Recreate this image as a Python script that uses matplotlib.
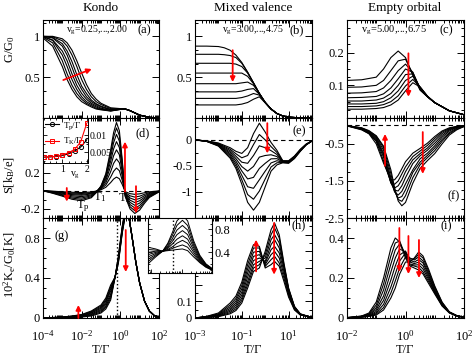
import numpy as np
import matplotlib
matplotlib.use("Agg")
import matplotlib.pyplot as plt
from matplotlib.ticker import FixedLocator, LogLocator, MultipleLocator, NullFormatter, FuncFormatter

plt.rcParams["font.family"] = "Liberation Serif"
plt.rcParams["mathtext.fontset"] = "custom"
plt.rcParams["mathtext.rm"] = "Liberation Serif"
plt.rcParams["mathtext.it"] = "Liberation Serif:italic"
plt.rcParams["font.size"] = 9

# ---- data (log10 T/Gamma grids and curve families) ----
xa = [-4, -3.5, -3, -2.75, -2.5, -2.25, -2, -1.75, -1.5, -1.25, -1, -0.5, 0, 0.25, 0.5, 1, 1.5, 2]
ga = [
    [.98, .88, .63, .47, .35, .26, .20, .165, .135, .11, .10, .085, .105, .11, .09, .035, .008, .001],
    [.99, .92, .70, .54, .40, .30, .23, .18, .15, .12, .105, .087, .105, .11, .09, .035, .008, .001],
    [.995, .95, .77, .63, .47, .35, .26, .20, .165, .135, .11, .09, .107, .11, .09, .035, .008, .001],
    [1.0, .955, .82, .70, .54, .40, .30, .23, .18, .15, .12, .093, .108, .11, .09, .035, .008, .001],
    [1.0, .98, .88, .77, .62, .46, .35, .26, .20, .165, .135, .10, .11, .11, .09, .035, .008, .001],
    [1.0, .985, .91, .82, .69, .53, .39, .30, .22, .175, .145, .105, .11, .11, .09, .035, .008, .001],
    [1.0, .995, .945, .88, .77, .63, .47, .35, .26, .20, .165, .115, .112, .11, .09, .035, .008, .001],
    [1.0, 1.0, .97, .92, .83, .70, .55, .41, .30, .23, .18, .125, .115, .11, .09, .035, .008, .001],
]

xb = [-3, -2.5, -2, -1.75, -1.5, -1.25, -1, -0.75, -0.5, -0.25, 0, 0.25, 0.5, 0.75, 1, 1.5, 2]
gb = [
    [.88, .88, .875, .86, .83, .77, .68, .56, .43, .30, .19, .11, .055, .025, .01, .002, 0],
    [.78, .78, .78, .775, .765, .74, .67, .56, .43, .30, .19, .11, .055, .025, .01, .002, 0],
    [.67, .67, .67, .67, .67, .66, .63, .55, .43, .30, .19, .11, .055, .025, .01, .002, 0],
    [.55, .55, .55, .55, .55, .55, .55, .51, .42, .30, .19, .11, .055, .025, .01, .002, 0],
    [.42, .42, .42, .42, .42, .42, .43, .44, .40, .30, .19, .11, .055, .025, .01, .002, 0],
    [.32, .32, .32, .32, .32, .32, .33, .35, .36, .29, .19, .11, .055, .025, .01, .002, 0],
    [.24, .24, .24, .24, .24, .24, .25, .27, .30, .28, .19, .11, .055, .025, .01, .002, 0],
    [.16, .16, .16, .16, .16, .16, .17, .19, .23, .26, .185, .11, .055, .025, .01, .002, 0],
]

xc = [-2, -1.5, -1, -0.75, -0.5, -0.25, 0, 0.25, 0.5, 0.75, 1, 1.5, 2]
gc = [
    [.115, .117, .125, .15, .185, .205, .185, .13, .085, .065, .047, .022, .01],
    [.094, .095, .10, .115, .145, .175, .18, .135, .087, .065, .047, .022, .01],
    [.076, .077, .081, .092, .115, .145, .165, .14, .088, .065, .047, .022, .01],
    [.062, .063, .066, .074, .092, .12, .15, .14, .09, .065, .047, .022, .01],
    [.052, .052, .055, .061, .075, .10, .133, .135, .092, .066, .047, .022, .01],
    [.043, .043, .045, .05, .062, .083, .115, .128, .094, .066, .047, .022, .01],
    [.035, .035, .037, .041, .05, .068, .098, .118, .095, .067, .047, .022, .01],
    [.027, .027, .029, .032, .04, .055, .083, .108, .095, .067, .047, .022, .01],
]

xd = [-4, -3.5, -3, -2.5, -2, -1.5, -1.25, -1, -0.75, -0.5, -0.35, -0.2, -0.05, 0.1, 0.25, 0.5, 0.75, 1, 1.25, 1.5, 2]
sd = [
    [0, -.005, -.011, -.017, -.02, -.014, -.004, .01, .038, .09, .128, .15, .132, .068, -.01, -.032, -.04, -.034, -.022, -.012, -.002],
    [0, -.008, -.017, -.026, -.03, -.021, -.006, .018, .063, .15, .213, .25, .22, .113, -.018, -.056, -.07, -.06, -.039, -.021, -.004],
    [0, -.01, -.022, -.034, -.04, -.028, -.008, .025, .088, .21, .30, .35, .308, .158, -.025, -.08, -.10, -.085, -.055, -.03, -.005],
    [0, -.013, -.028, -.043, -.05, -.035, -.01, .032, .113, .27, .383, .45, .396, .203, -.033, -.104, -.13, -.11, -.072, -.039, -.007],
    [0, -.016, -.036, -.055, -.065, -.046, -.013, .038, .135, .324, .459, .54, .475, .243, -.04, -.128, -.16, -.136, -.088, -.048, -.008],
    [0, -.02, -.044, -.068, -.08, -.056, -.016, .043, .155, .372, .527, .62, .546, .279, -.048, -.152, -.19, -.162, -.105, -.057, -.01],
    [0, -.024, -.052, -.081, -.095, -.067, -.019, .048, .173, .414, .587, .69, .607, .311, -.055, -.176, -.22, -.187, -.121, -.066, -.011],
    [0, -.028, -.06, -.094, -.11, -.077, -.022, .053, .188, .45, .638, .75, .66, .338, -.063, -.20, -.25, -.213, -.138, -.075, -.013],
]

xe = [-3, -2.5, -2, -1.5, -1.25, -1, -0.75, -0.5, -0.25, 0, 0.25, 0.5, 0.75, 1, 1.25, 1.5, 1.75, 2]
se = [
    [0, -.02, -.06, -.15, -.22, -.26, -.15, .12, .32, .15, -.05, -.20, -.40, -.40, -.31, -.18, -.08, -.02],
    [0, -.021, -.069, -.179, -.267, -.344, -.30, -.09, .103, 0, -.129, -.24, -.406, -.41, -.32, -.19, -.085, -.02],
    [0, -.023, -.077, -.207, -.314, -.429, -.45, -.30, -.114, -.15, -.207, -.28, -.411, -.415, -.325, -.195, -.087, -.02],
    [0, -.024, -.086, -.236, -.361, -.513, -.60, -.51, -.331, -.30, -.286, -.32, -.417, -.42, -.33, -.20, -.09, -.02],
    [0, -.026, -.094, -.264, -.409, -.597, -.75, -.72, -.549, -.45, -.364, -.36, -.423, -.43, -.335, -.205, -.09, -.02],
    [0, -.027, -.103, -.293, -.456, -.681, -.90, -.93, -.766, -.60, -.443, -.40, -.429, -.435, -.34, -.21, -.092, -.021],
    [0, -.029, -.111, -.321, -.503, -.766, -1.05, -1.14, -.983, -.75, -.521, -.44, -.434, -.44, -.35, -.215, -.095, -.022],
    [0, -.03, -.12, -.35, -.55, -.85, -1.20, -1.35, -1.20, -.90, -.60, -.48, -.44, -.45, -.36, -.22, -.097, -.022],
]

xf = [-2, -1.5, -1.25, -1, -0.75, -0.5, -0.375, -0.25, -0.125, 0, 0.25, 0.5, 0.75, 1, 1.25, 1.5, 1.75, 2]
sf = [
    [-.015, -.12, -.225, -.50, -1.02, -1.47, -1.47, -1.35, -1.17, -.98, -.75, -.62, -.48, -.30, -.15, -.065, -.027, -.008],
    [-.01, -.11, -.22, -.43, -.96, -1.54, -1.59, -1.50, -1.31, -1.12, -.84, -.69, -.54, -.35, -.18, -.08, -.03, -.01],
    [-.005, -.10, -.20, -.41, -.86, -1.55, -1.69, -1.63, -1.47, -1.25, -.93, -.76, -.61, -.41, -.22, -.10, -.04, -.012],
    [-.005, -.09, -.19, -.38, -.80, -1.55, -1.75, -1.77, -1.63, -1.41, -1.03, -.82, -.67, -.48, -.27, -.12, -.05, -.015],
    [-.005, -.085, -.17, -.35, -.75, -1.48, -1.79, -1.88, -1.78, -1.58, -1.20, -.90, -.75, -.55, -.32, -.15, -.06, -.02],
    [-.005, -.08, -.17, -.32, -.67, -1.41, -1.78, -1.96, -1.92, -1.74, -1.27, -.99, -.81, -.61, -.38, -.19, -.08, -.025],
    [-.004, -.07, -.155, -.29, -.60, -1.30, -1.75, -2.00, -2.05, -1.90, -1.41, -1.06, -.87, -.68, -.43, -.22, -.10, -.03],
    [-.003, -.065, -.14, -.28, -.56, -1.20, -1.67, -2.04, -2.17, -2.08, -1.56, -1.16, -.95, -.76, -.50, -.26, -.12, -.03],
]

xg = [-4, -3, -2.5, -2, -1.5, -1, -0.75, -0.5, -0.27, -0.1, 0.1, 0.28, 0.45, 0.6, 0.8, 1, 1.25, 1.5, 1.75, 2]
kg = [
    [0, .002, .005, .01, .02, .05, .09, .18, .41, .62, .92, 1.12, 1.0, .82, .56, .35, .17, .07, .025, .008],
    [0, .003, .007, .014, .027, .061, .106, .20, .41, .61, .91, 1.11, 1.0, .82, .56, .35, .17, .07, .025, .008],
    [0, .004, .009, .017, .034, .073, .121, .22, .41, .60, .90, 1.10, 1.0, .82, .56, .35, .17, .07, .025, .008],
    [0, .005, .011, .021, .041, .084, .137, .24, .41, .59, .89, 1.09, 1.0, .82, .56, .35, .17, .07, .025, .008],
    [0, .007, .014, .024, .049, .096, .153, .27, .41, .58, .88, 1.08, 1.0, .82, .56, .35, .17, .07, .025, .008],
    [0, .008, .016, .028, .056, .107, .169, .29, .41, .57, .87, 1.07, 1.0, .82, .56, .35, .17, .07, .025, .008],
    [0, .009, .018, .031, .063, .119, .184, .31, .41, .56, .86, 1.06, 1.0, .82, .56, .35, .17, .07, .025, .008],
    [0, .01, .02, .035, .07, .13, .20, .33, .41, .55, .85, 1.05, 1.0, .82, .56, .35, .17, .07, .025, .008],
]

xh = [-3, -2.5, -2, -1.5, -1.25, -1, -0.75, -0.5, -0.25, 0, 0.25, 0.4, 0.6, 0.8, 1, 1.25, 1.5, 2]
kh = [
    [0, .003, .008, .025, .045, .09, .18, .28, .30, .40, .53, .57, .50, .33, .18, .07, .025, .003],
    [0, .004, .01, .032, .055, .105, .20, .30, .32, .38, .50, .54, .48, .32, .175, .068, .024, .003],
    [0, .005, .012, .04, .066, .12, .22, .32, .34, .36, .47, .50, .45, .31, .17, .066, .023, .003],
    [0, .006, .015, .048, .078, .137, .245, .345, .36, .34, .44, .47, .42, .30, .165, .064, .022, .003],
    [0, .007, .018, .057, .09, .155, .27, .37, .38, .33, .41, .43, .39, .28, .155, .06, .021, .003],
    [0, .008, .021, .067, .103, .175, .295, .395, .40, .32, .38, .40, .36, .26, .145, .056, .02, .003],
    [0, .009, .025, .078, .117, .195, .32, .42, .42, .31, .35, .37, .33, .24, .135, .052, .019, .003],
    [0, .01, .03, .09, .132, .215, .345, .44, .43, .30, .32, .34, .31, .22, .125, .048, .018, .003],
]

xi = [-2, -1.5, -1.25, -1, -0.75, -0.5, -0.35, -0.2, 0, 0.15, 0.3, 0.45, 0.6, 0.8, 1, 1.25, 1.5, 1.75, 2]
ki = [
    [.002, .01, .025, .08, .20, .35, .40, .38, .30, .26, .25, .24, .22, .17, .12, .06, .025, .01, .003],
    [.002, .009, .021, .065, .17, .31, .375, .385, .31, .265, .26, .253, .23, .18, .125, .062, .026, .01, .003],
    [.002, .008, .018, .052, .14, .27, .34, .37, .32, .27, .265, .266, .245, .19, .13, .065, .027, .011, .003],
    [.001, .007, .015, .042, .11, .23, .30, .345, .33, .28, .272, .279, .26, .20, .135, .068, .028, .011, .003],
    [.001, .006, .012, .033, .088, .19, .26, .315, .335, .29, .28, .292, .275, .21, .14, .071, .029, .011, .004],
    [.001, .005, .01, .026, .068, .155, .22, .285, .325, .30, .29, .305, .285, .22, .148, .074, .03, .012, .004],
    [.001, .004, .009, .02, .052, .125, .185, .25, .305, .295, .295, .318, .30, .23, .155, .077, .03, .012, .004],
    [.001, .004, .008, .015, .04, .10, .15, .22, .28, .28, .30, .33, .31, .24, .16, .08, .03, .012, .004],
]

# inset of (d): characteristic temperatures vs v_g
vg = [0.25, 0.5, 0.75, 1.0, 1.25, 1.5, 1.75, 2.0]
tp = [0.0035, 0.0036, 0.0037, 0.0040, 0.0045, 0.0053, 0.0065, 0.0086]
tk = [0.0035, 0.0036, 0.0038, 0.0042, 0.0048, 0.0058, 0.0080, 0.0135]

# inset of (h)
xhi = [-1.1, -0.85, -0.62, -0.45, -0.29, -0.15, 0.03, 0.2, 0.4, 0.6, 0.8, 1.0]
khi = [
    [.20, .32, .42, .56, .76, .95, 1.05, .95, .60, .35, .20, .12],
    [.24, .34, .42, .54, .71, .87, .96, .87, .56, .33, .19, .115],
    [.28, .36, .42, .51, .65, .79, .87, .79, .52, .31, .18, .11],
    [.32, .38, .42, .49, .60, .71, .78, .71, .48, .29, .17, .105],
    [.36, .40, .42, .47, .55, .63, .69, .63, .44, .27, .16, .10],
    [.40, .42, .42, .45, .50, .56, .61, .56, .40, .25, .155, .10],
    [.45, .44, .42, .44, .47, .50, .53, .49, .36, .23, .15, .095],
    [.49, .46, .42, .43, .44, .45, .46, .43, .32, .22, .14, .09],
]

# ---- figure layout (pixel geometry of the original) ----
W, H = 474, 357
fig = plt.figure(figsize=(W / 100, H / 100), dpi=100)

cols = [(43, 116), (195, 117), (347, 117)]
rows = [(20, 98), (118, 100), (218, 100)]
xlims = [(1e-4, 1e2), (1e-3, 1e2), (1e-2, 1e2)]
xmajor = [[1e-4, 1e-2, 1, 1e2], [1e-3, 1e-1, 1e1], [1e-2, 1, 1e2]]


def mk_ax(c, r):
    x0, w = cols[c]
    y0, h = rows[r]
    return fig.add_axes([x0 / W, 1 - (y0 + h) / H, w / W, h / H])


def pow_fmt(v, pos):
    return r"$10^{%d}$" % int(round(np.log10(v)))


def style(ax, c, r):
    ax.set_xscale("log")
    ax.set_xlim(*xlims[c])
    ax.xaxis.set_major_locator(FixedLocator(xmajor[c]))
    ax.xaxis.set_minor_locator(LogLocator(base=10, subs=np.arange(1, 10), numticks=30))
    ax.xaxis.set_minor_formatter(NullFormatter())
    if r == 2:
        ax.xaxis.set_major_formatter(FuncFormatter(pow_fmt))
    else:
        ax.xaxis.set_major_formatter(NullFormatter())
    ax.tick_params(which="both", direction="in", top=True, right=True, width=0.7, labelsize=9, pad=2)
    ax.tick_params(axis="x", which="major", pad=8)
    ax.tick_params(which="major", length=5)
    ax.tick_params(which="minor", length=2.5)
    for s in ax.spines.values():
        s.set_linewidth(0.8)


def family(ax, xs, ys, lw=0.8):
    t = 10.0 ** np.array(xs)
    for y in ys:
        ax.plot(t, y, color="black", lw=lw)


def arrow(ax, x0, y0, x1, y1):
    ax.annotate("", xy=(x1, y1), xytext=(x0, y0),
                arrowprops=dict(arrowstyle="-|>", color="red", lw=1.3, mutation_scale=7,
                                shrinkA=0, shrinkB=0))


axs = {}
for r in range(3):
    for c in range(3):
        a = mk_ax(c, r)
        style(a, c, r)
        axs[(r, c)] = a

# (a)
ax = axs[(0, 0)]
family(ax, xa, ga)
ax.set_ylim(0, 1.2)
ax.set_yticks([0.5, 1.0])
ax.set_yticklabels(["0.5", "1"])
ax.yaxis.set_minor_locator(MultipleLocator(0.5 / 3))
ax.text(0.47, 0.89, r"v$_\mathrm{g}$=0.25,...,2.00", transform=ax.transAxes, ha="center", va="center", fontsize=7)
ax.text(0.93, 0.89, "(a)", transform=ax.transAxes, ha="right", va="center")
arrow(ax, 10 ** -2.95, 0.465, 10 ** -1.48, 0.60)

# (b)
ax = axs[(0, 1)]
family(ax, xb, gb)
ax.set_ylim(0, 1.2)
ax.set_yticks([0.5, 1.0])
ax.set_yticklabels(["0.5", "1"])
ax.yaxis.set_minor_locator(MultipleLocator(0.5 / 3))
ax.text(0.50, 0.89, r"v$_\mathrm{g}$=3.00,...,4.75", transform=ax.transAxes, ha="center", va="center", fontsize=7)
ax.text(0.93, 0.89, "(b)", transform=ax.transAxes, ha="right", va="center")
arrow(ax, 10 ** -1.39, 0.83, 10 ** -1.39, 0.44)

# (c)
ax = axs[(0, 2)]
family(ax, xc, gc)
ax.set_ylim(0, 0.3)
ax.set_yticks([0.1, 0.2])
ax.set_yticklabels(["0.1", "0.2"])
ax.yaxis.set_minor_locator(MultipleLocator(0.025))
ax.text(0.40, 0.89, r"v$_\mathrm{g}$=5.00,...,6.75", transform=ax.transAxes, ha="center", va="center", fontsize=7.5)
ax.text(0.91, 0.89, "(c)", transform=ax.transAxes, ha="right", va="center")
arrow(ax, 10 ** 0.1, 0.198, 10 ** 0.1, 0.065)

# (d)
ax = axs[(1, 0)]
family(ax, xd, sd)
ax.axhline(0, color="black", lw=0.8, ls=(0, (4, 3)))
ax.set_ylim(-0.3, 0.8)
ax.set_yticks([-0.2, 0.2])
ax.set_yticklabels(["-0.2", "0.2"])
ax.yaxis.set_minor_locator(MultipleLocator(0.1))
ax.text(0.92, 0.85, "(d)", transform=ax.transAxes, ha="right", va="center")
ax.text(10 ** -1.93, -0.17, r"T$_\mathrm{p}$", ha="center", va="center")
ax.text(10 ** -1.05, -0.065, r"T$_1$", ha="center", va="center")
ax.text(10 ** 0.24, -0.08, r"T$_2$", ha="center", va="center")
arrow(ax, 10 ** -2.77, 0.03, 10 ** -2.77, -0.12)
arrow(ax, 10 ** 0.24, -0.01, 10 ** 0.24, 0.54)
arrow(ax, 10 ** 0.81, 0.05, 10 ** 0.81, -0.25)

# (e)
ax = axs[(1, 1)]
family(ax, xe, se)
ax.axhline(0, color="black", lw=0.8, ls=(0, (4, 3)))
ax.set_ylim(-1.5, 0.42)
ax.set_yticks([-1, -0.5, 0])
ax.set_yticklabels(["-1", "-0.5", "0"])
ax.yaxis.set_minor_locator(MultipleLocator(0.25))
ax.text(0.95, 0.87, "(e)", transform=ax.transAxes, ha="right", va="center")
arrow(ax, 10 ** 0.09, 0.32, 10 ** 0.09, -0.26)

# (f)
ax = axs[(1, 2)]
family(ax, xf, sf)
ax.axhline(0, color="black", lw=0.8, ls=(0, (4, 3)))
ax.set_ylim(-2.5, 0.2)
ax.set_yticks([-2.5, -1.5, -0.5])
ax.set_yticklabels(["-2.5", "-1.5", "-0.5"])
ax.yaxis.set_minor_locator(MultipleLocator(0.25))
ax.text(0.96, 0.22, "(f)", transform=ax.transAxes, ha="right", va="center")
arrow(ax, 10 ** -0.7, -1.09, 10 ** -0.7, -0.23)
arrow(ax, 10 ** 0.59, -0.18, 10 ** 0.59, -1.31)

# (g)
ax = axs[(2, 0)]
family(ax, xg, kg)
ax.axvline(10 ** -0.17, color="black", lw=1.0, ls=":")
ax.set_ylim(0, 1.0)
ax.set_yticks([0, 0.4, 0.8])
ax.set_yticklabels(["0", "0.4", "0.8"])
ax.yaxis.set_minor_locator(MultipleLocator(0.1))
ax.text(0.1, 0.82, "(g)", transform=ax.transAxes, ha="left", va="center")
arrow(ax, 10 ** -2.17, 0.0, 10 ** -2.17, 0.13)
arrow(ax, 10 ** 0.28, 0.88, 10 ** 0.28, 0.46)

# (h)
ax = axs[(2, 1)]
family(ax, xh, kh)
ax.set_ylim(0, 0.6)
ax.set_yticks([0, 0.1, 0.2, 0.3, 0.4, 0.5])
ax.set_yticklabels(["0", "0.1", "", "", "", ""])
ax.yaxis.set_minor_locator(MultipleLocator(0.05))
ax.text(0.95, 0.93, "(h)", transform=ax.transAxes, ha="right", va="center")
arrow(ax, 10 ** -0.39, 0.28, 10 ** -0.39, 0.47)
arrow(ax, 10 ** 0.38, 0.57, 10 ** 0.38, 0.26)

# (i)
ax = axs[(2, 2)]
family(ax, xi, ki)
ax.set_ylim(0, 0.5)
ax.set_yticks([0, 0.2, 0.4])
ax.set_yticklabels(["0", "0.2", "0.4"])
ax.yaxis.set_minor_locator(MultipleLocator(0.05))
ax.text(0.9, 0.92, "(i)", transform=ax.transAxes, ha="right", va="center")
for lx, top, bot in [(-0.21, 0.45, 0.23), (0.1, 0.41, 0.22), (0.46, 0.39, 0.20)]:
    arrow(ax, 10 ** lx, top, 10 ** lx, bot)

# inset in (d)
ins = fig.add_axes([43 / W, 1 - 163 / H, 45 / W, 45 / H])
ins.plot(vg, tp, color="black", lw=0.8, marker="o", ms=3, mfc="none", mew=0.7, label="T$_\\mathrm{p}$/Γ")
ins.plot(vg, tk, color="red", lw=0.8, marker="s", ms=3, mfc="none", mew=0.7, label="T$_\\mathrm{K}$/Γ")
ins.set_xlim(0.2, 2.05)
ins.set_ylim(0.0018, 0.015)
ins.set_xticks([1, 2])
ins.set_xticklabels(["1", "2"])
ins.xaxis.set_minor_locator(MultipleLocator(0.25))
ins.set_yticks([0.005, 0.01])
ins.set_yticklabels(["0.005", "0.01"])
ins.yaxis.set_minor_locator(MultipleLocator(0.0025))
ins.yaxis.tick_right()
ins.tick_params(which="both", direction="in", top=True, left=True, right=True, labelsize=7, pad=1.5)
ins.tick_params(which="major", length=3, width=0.6)
ins.tick_params(which="minor", length=1.5, width=0.6)
ins.text(0.72, -0.27, r"v$_\mathrm{g}$", transform=ins.transAxes, ha="center", va="center", fontsize=7)
ins.legend(loc="upper left", fontsize=6.5, frameon=False, handlelength=1.6, borderpad=0.1,
           labelspacing=0.5, handletextpad=0.4, borderaxespad=0.1)
for s in ins.spines.values():
    s.set_linewidth(0.7)

# inset in (h)
inh = fig.add_axes([148 / W, 1 - 273 / H, 64 / W, 55 / H])
family(inh, xhi, khi, lw=0.7)
inh.axvline(10 ** -0.29, color="black", lw=1.0, ls=":")
inh.set_xscale("log")
inh.set_xlim(10 ** -1.1, 10 ** 1.0)
inh.set_ylim(0.04, 1.0)
inh.xaxis.set_major_locator(FixedLocator([0.1, 1, 10]))
inh.xaxis.set_minor_locator(LogLocator(base=10, subs=np.arange(1, 10), numticks=30))
inh.xaxis.set_major_formatter(NullFormatter())
inh.xaxis.set_minor_formatter(NullFormatter())
inh.set_yticks([0.4, 0.8])
inh.set_yticklabels(["0.4", "0.8"])
inh.yaxis.set_minor_locator(MultipleLocator(0.1))
inh.yaxis.tick_right()
inh.tick_params(which="both", direction="in", left=True, right=True, top=False, labelsize=9, pad=2)
inh.tick_params(which="major", length=3, width=0.6)
inh.tick_params(which="minor", length=1.5, width=0.6)
for s in inh.spines.values():
    s.set_linewidth(0.8)

# column titles, x labels and row labels
for xc_, t in [(101, "Kondo"), (253, "Mixed valence"), (405, "Empty orbital")]:
    fig.text(xc_ / W, 1 - 8 / H, t, ha="center", va="center", fontsize=9.5)
for xc_ in [101, 253, 405]:
    fig.text(xc_ / W, 1 - 350 / H, "T/Γ", ha="center", va="center", fontsize=9)
fig.text(10 / W, 1 - 49 / H, "G/G$_0$", rotation=90, ha="center", va="center")
fig.text(10 / W, 1 - 175 / H, "S[k$_\\mathrm{B}$/e]", rotation=90, ha="center", va="center")
fig.text(10 / W, 1 - 265 / H, "10$^2$K$_\\mathrm{e}$/G$_0$[K]", rotation=90, ha="center", va="center")

fig.savefig("out.png", dpi=100)
